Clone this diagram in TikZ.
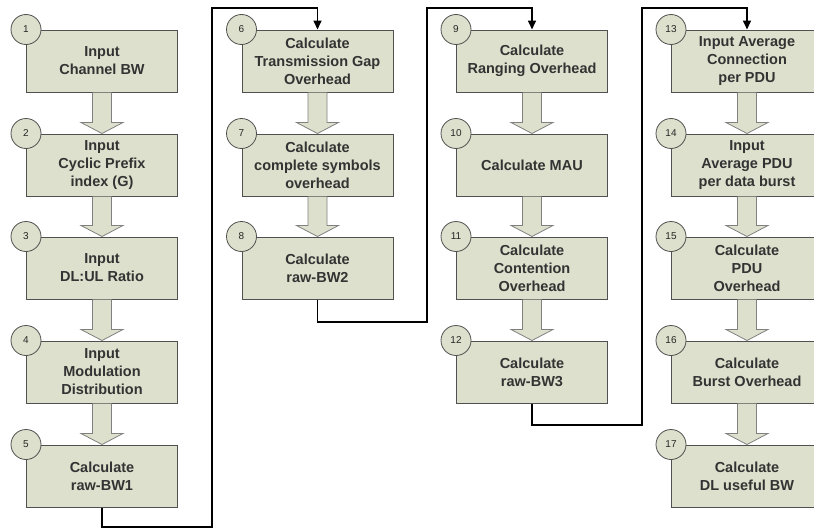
\documentclass[tikz,border=0pt]{standalone}
\usepackage{fontspec}
\setmainfont{Liberation Sans}
\usetikzlibrary{arrows.meta, calc}

\definecolor{boxfill}{HTML}{DDE0CC}
\definecolor{boxline}{HTML}{505050}
\definecolor{fatline}{HTML}{808080}

\tikzset{
  stepnode/.style={draw=boxline, line width=1pt, fill=boxfill, minimum width=151pt,
    minimum height=62pt, inner sep=0pt, align=center, text=black!80,
    font=\fontsize{14.5}{18}\selectfont\bfseries},
  numcirc/.style={circle, draw=boxline, line width=0.8pt, fill=boxfill, minimum size=30pt,
    inner sep=0pt, text=black!85, font=\fontsize{10}{11}\selectfont},
  fat/.style={draw=fatline, line width=0.8pt, fill=boxfill},
  link/.style={line width=1.6pt, -{Triangle[length=9pt,width=8pt]}}
}

% block arrow from one step down to the next
\newcommand{\fatarrow}[2]{%
  \filldraw[fat] ($(#1.south)+(-9.5,0)$) -- ($(#2.north)+(-9.5,-11)$) -- ($(#2.north)+(-21,-11)$)
    -- (#2.north) -- ($(#2.north)+(21,-11)$) -- ($(#2.north)+(9.5,-11)$) -- ($(#1.south)+(9.5,0)$);}

\begin{document}
\begin{tikzpicture}[x=1pt, y=-1pt]
  \useasboundingbox (0,0) rectangle (814,530);
  \clip (0,0) rectangle (814,530);

  % Column 1
  \node[stepnode] (b1) at (102,61)  {Input\\Channel BW};
  \node[stepnode] (b2) at (102,165) {Input\\Cyclic Prefix\\index (G)};
  \node[stepnode] (b3) at (102,268) {Input\\DL:UL Ratio};
  \node[stepnode] (b4) at (102,372) {Input\\Modulation\\Distribution};
  \node[stepnode] (b5) at (102,476) {Calculate\\raw-BW1};

  % Column 2
  \node[stepnode] (b6) at (317.5,61)  {Calculate\\Transmission Gap\\Overhead};
  \node[stepnode] (b7) at (317.5,165) {Calculate\\complete symbols\\overhead};
  \node[stepnode] (b8) at (317.5,268) {Calculate\\raw-BW2};

  % Column 3
  \node[stepnode] (b9)  at (532,61)  {Calculate\\Ranging Overhead};
  \node[stepnode] (b10) at (532,165) {Calculate MAU};
  \node[stepnode] (b11) at (532,268) {Calculate\\Contention\\Overhead};
  \node[stepnode] (b12) at (532,372) {Calculate\\raw-BW3};

  % Column 4
  \node[stepnode] (b13) at (747,61)  {Input Average\\Connection\\per PDU};
  \node[stepnode] (b14) at (747,165) {Input\\Average PDU\\per data burst};
  \node[stepnode] (b15) at (747,268) {Calculate\\PDU\\Overhead};
  \node[stepnode] (b16) at (747,372) {Calculate\\Burst Overhead};
  \node[stepnode] (b17) at (747,476) {Calculate\\DL useful BW};

  % Block arrows inside each column
  \foreach \a/\b in {b1/b2, b2/b3, b3/b4, b4/b5, b6/b7, b7/b8, b9/b10, b10/b11, b11/b12,
                     b13/b14, b14/b15, b15/b16, b16/b17}
    \fatarrow{\a}{\b};

  % Step numbers
  \foreach \i in {1,...,17}
    \node[numcirc] (c\i) at (b\i.north west) {\i};

  % Links between columns
  \draw[link] (b5.south) -- (b5.south |- 0,527) -- (212,527) -- (212,8) -- (b6.north |- 0,8) -- (b6.north);
  \draw[link] (b8.south) -- (b8.south |- 0,322) -- (427,322) -- (427,8) -- (b9.north |- 0,8) -- (b9.north);
  \draw[link] (b12.south) -- (b12.south |- 0,425) -- (642,425) -- (642,8) -- (b13.north |- 0,8) -- (b13.north);
\end{tikzpicture}
\end{document}
